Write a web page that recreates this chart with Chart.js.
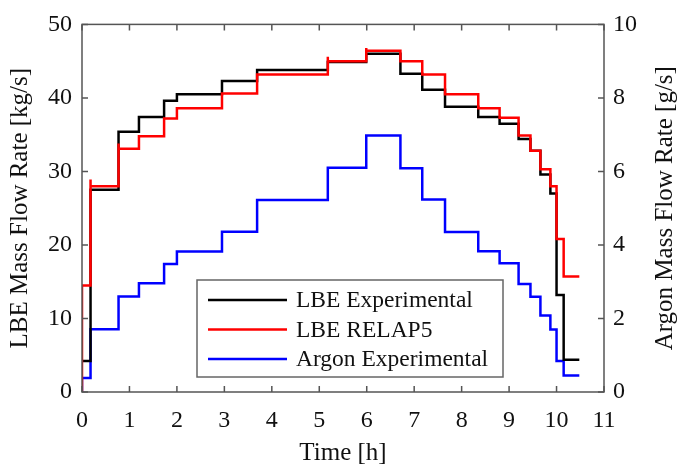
<!DOCTYPE html>
<html>
<head>
<meta charset="utf-8">
<script src="https://cdn.jsdelivr.net/npm/chart.js@4.4.1/dist/chart.umd.min.js"></script>
<style>
  html, body { margin: 0; padding: 0; background: #fff; }
  #wrap { width: 678px; height: 469px; }
</style>
</head>
<body>
<div id="wrap"><canvas id="flow"></canvas></div>
<script>
// step start times [h], the last step ends at endTime
const stepTimes = [0, 0.18, 0.77, 1.2, 1.73, 2.0, 2.95, 3.69, 5.18, 5.99, 6.71,
                   7.17, 7.65, 8.35, 8.8, 9.2, 9.45, 9.66, 9.87, 10.0, 10.15];
const endTime = 10.48;

// LBE mass flow [kg/s]
const lbeExp = [4.2, 27.5, 35.4, 37.4, 39.6, 40.5, 42.3, 43.8, 44.9, 46.0, 43.3,
                41.1, 38.8, 37.4, 36.5, 34.4, 32.8, 29.6, 27.0, 13.2, 4.4];
const lbeRelap = [14.5, 28.0, 33.1, 34.8, 37.2, 38.6, 40.6, 43.2, 45.0, 46.4, 45.0,
                  43.2, 40.5, 38.6, 37.3, 34.9, 32.8, 30.3, 28.0, 20.8, 15.7];
// short overshoot of the RELAP5 signal right at some steps (null = none)
const lbeRelapPeak = [null, 28.9, 33.8, null, null, null, null, null, 45.6, 46.8, null,
                      null, null, null, null, null, null, null, null, null, null];

// argon mass flow [g/s]
const argonExp = [0.38, 1.71, 2.6, 2.96, 3.48, 3.82, 4.36, 5.22, 6.10, 6.98, 6.09,
                  5.24, 4.35, 3.83, 3.5, 2.94, 2.59, 2.08, 1.70, 0.84, 0.45];

const timeTicks = [0, 1, 2, 3, 4, 5, 6, 7, 8, 9, 10, 11];
const lbeTicks = [0, 10, 20, 30, 40, 50];
const argonTicks = [0, 2, 4, 6, 8, 10];

function stepPoints(vals, peaks, fromZero) {
  const pts = [];
  if (fromZero) pts.push({ x: stepTimes[0], y: 0 });
  vals.forEach((v, i) => {
    if (peaks && peaks[i] != null) pts.push({ x: stepTimes[i], y: peaks[i] });
    pts.push({ x: stepTimes[i], y: v });
  });
  pts.push({ x: endTime, y: vals[vals.length - 1] });
  return pts;
}

const FONT = "'Liberation Serif', 'Times New Roman', serif";
const AXIS = '#555';
const TXT = '#111';

// frame + inward ticks like a MATLAB box, plus the right-hand title
const boxAxes = {
  id: 'boxAxes',
  afterDatasetsDraw(chart) {
    const { ctx, chartArea: a, scales } = chart;
    const len = 6;
    ctx.save();
    ctx.strokeStyle = AXIS;
    ctx.lineWidth = 1.5;
    ctx.beginPath();
    timeTicks.forEach(t => {
      const x = scales.x.getPixelForValue(t);
      ctx.moveTo(x, a.bottom); ctx.lineTo(x, a.bottom - len);
      ctx.moveTo(x, a.top); ctx.lineTo(x, a.top + len);
    });
    lbeTicks.forEach(v => {
      const y = scales.y.getPixelForValue(v);
      ctx.moveTo(a.left, y); ctx.lineTo(a.left + len, y);
    });
    argonTicks.forEach(v => {
      const y = scales.y1.getPixelForValue(v);
      ctx.moveTo(a.right, y); ctx.lineTo(a.right - len, y);
    });
    ctx.stroke();
    ctx.strokeRect(a.left, a.top, a.right - a.left, a.bottom - a.top);

    // right axis title reads bottom-to-top, same as the left one
    ctx.translate(665, (a.top + a.bottom) / 2);
    ctx.rotate(-Math.PI / 2);
    ctx.font = '25px ' + FONT;
    ctx.fillStyle = TXT;
    ctx.textAlign = 'center';
    ctx.textBaseline = 'middle';
    ctx.fillText('Argon Mass Flow Rate [g/s]', 0, 0);
    ctx.restore();
  }
};

// boxed legend inside the plot area
const boxLegend = {
  id: 'boxLegend',
  afterDraw(chart) {
    const { ctx } = chart;
    const x0 = 197, y0 = 280, w = 306, h = 97;
    ctx.save();
    ctx.fillStyle = '#fff';
    ctx.fillRect(x0, y0, w, h);
    ctx.strokeStyle = '#666';
    ctx.lineWidth = 1.5;
    ctx.strokeRect(x0, y0, w, h);
    ctx.font = '23.5px ' + FONT;
    ctx.textBaseline = 'middle';
    ctx.textAlign = 'left';
    chart.data.datasets.forEach((ds, i) => {
      const y = y0 + 20 + i * 29.5;
      ctx.strokeStyle = ds.borderColor;
      ctx.lineWidth = 2.5;
      ctx.beginPath();
      ctx.moveTo(x0 + 11, y); ctx.lineTo(x0 + 90, y);
      ctx.stroke();
      ctx.fillStyle = TXT;
      ctx.fillText(ds.label, x0 + 99, y + 1);
    });
    ctx.restore();
  }
};

new Chart(document.getElementById('flow'), {
  type: 'line',
  data: {
    datasets: [
      {
        label: 'LBE Experimental',
        data: stepPoints(lbeExp, null, false),
        borderColor: '#000000',
        yAxisID: 'y',
        order: 2
      },
      {
        label: 'LBE RELAP5',
        data: stepPoints(lbeRelap, lbeRelapPeak, true),
        borderColor: '#ff0000',
        yAxisID: 'y',
        order: 1
      },
      {
        label: 'Argon Experimental',
        data: stepPoints(argonExp, null, true),
        borderColor: '#0000ff',
        yAxisID: 'y1',
        order: 3
      }
    ]
  },
  options: {
    responsive: true,
    maintainAspectRatio: false,
    animation: false,
    layout: { padding: { top: 13 } },
    elements: {
      line: { borderWidth: 2.5, stepped: true, tension: 0 },
      point: { radius: 0 }
    },
    scales: {
      x: {
        type: 'linear',
        min: 0, max: 11,
        afterFit: s => { s.height = 77; },
        afterBuildTicks: s => { s.ticks = timeTicks.map(v => ({ value: v })); },
        grid: { display: false, drawTicks: false },
        border: { display: false },
        ticks: { color: TXT, font: { family: FONT, size: 24 }, padding: 14, maxRotation: 0 },
        title: { display: true, text: 'Time [h]', color: TXT,
                 font: { family: FONT, size: 25 }, padding: { top: 0, bottom: 1 } }
      },
      y: {
        position: 'left',
        min: 0, max: 50,
        afterFit: s => { s.width = 82; },
        afterBuildTicks: s => { s.ticks = lbeTicks.map(v => ({ value: v })); },
        grid: { display: false, drawTicks: false },
        border: { display: false },
        ticks: { color: TXT, font: { family: FONT, size: 24 }, padding: 10 },
        title: { display: true, text: 'LBE Mass Flow Rate [kg/s]', color: TXT,
                 font: { family: FONT, size: 25 }, padding: { top: 5, bottom: 0 } }
      },
      y1: {
        position: 'right',
        min: 0, max: 10,
        afterFit: s => { s.width = 74; },
        afterBuildTicks: s => { s.ticks = argonTicks.map(v => ({ value: v })); },
        grid: { display: false, drawTicks: false },
        border: { display: false },
        ticks: { color: TXT, font: { family: FONT, size: 24 }, padding: 9 },
        title: { display: false }
      }
    },
    plugins: {
      legend: { display: false },
      tooltip: { enabled: false }
    }
  },
  plugins: [boxAxes, boxLegend]
});
</script>
</body>
</html>
